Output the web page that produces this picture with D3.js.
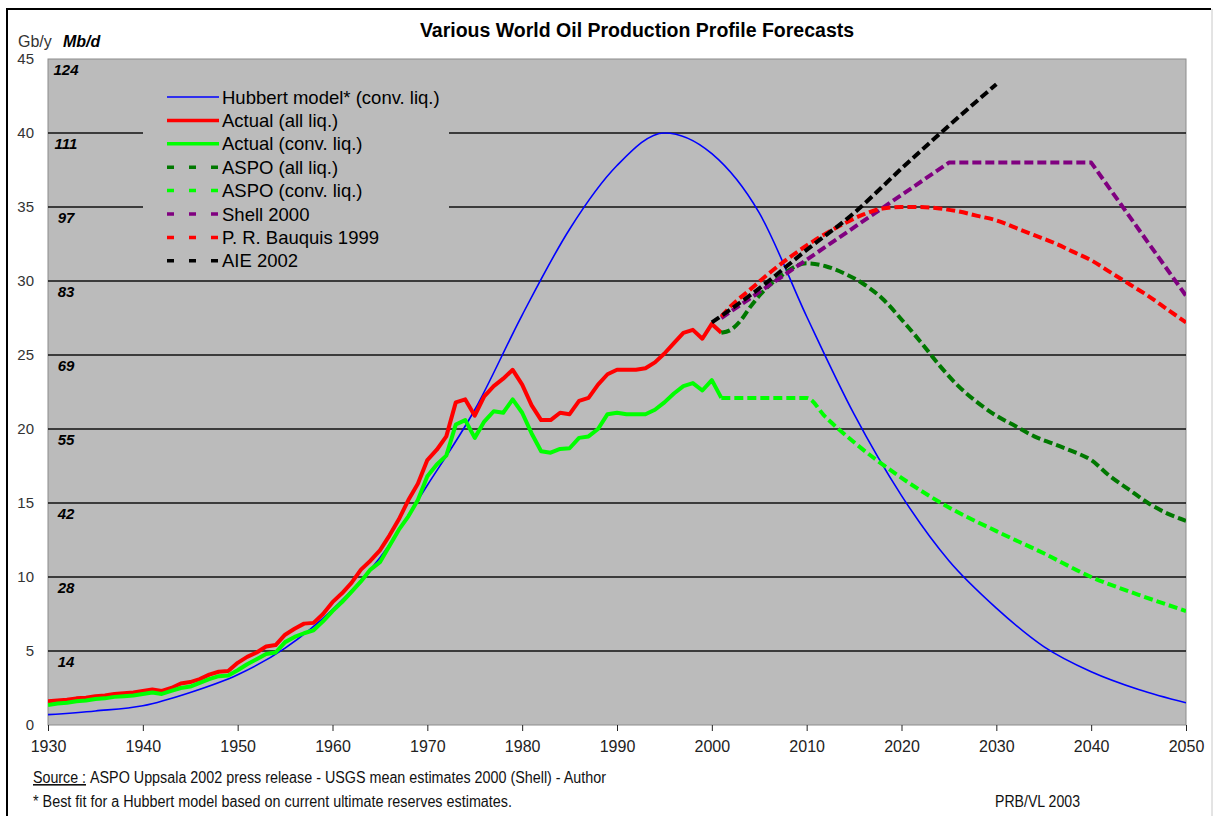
<!DOCTYPE html>
<html>
<head>
<meta charset="utf-8">
<script src="https://cdn.jsdelivr.net/npm/d3@7"></script>
<style>
  body { margin: 0; background: #fff; }
  svg { display: block; font-family: "Liberation Sans", Arial, sans-serif; }
</style>
</head>
<body>
<svg id="chart"></svg>
<script>
// Tick labels
const decadeTicks = [1930, 1940, 1950, 1960, 1970, 1980, 1990, 2000, 2010, 2020, 2030, 2040, 2050];
const gbTicks = [0, 5, 10, 15, 20, 25, 30, 35, 40, 45];
const mbdLabels = [14, 28, 42, 55, 69, 83, 97, 111, 124]; // for 5 .. 45 Gb/y

// Hubbert model (conv. liq.), every 5 years
const hubbertYears = [1930, 1935, 1940, 1945, 1950, 1955, 1960, 1965, 1970, 1975, 1980, 1985, 1990, 1995,
  2000, 2005, 2010, 2015, 2020, 2025, 2030, 2035, 2040, 2045, 2050];
const hubbertValues = [0.7, 0.95, 1.3, 2.2, 3.4, 5.2, 7.8, 11.3, 16.2, 21.3, 27.7, 33.5, 37.8, 40.0,
  38.6, 34.6, 27.6, 21.0, 15.5, 11.1, 7.9, 5.3, 3.6, 2.4, 1.5];

// Actual production, yearly 1930 .. 2001
const actualStart = 1930;
const actualAll = [1.6, 1.65, 1.7, 1.8, 1.85, 1.95, 2.0, 2.1, 2.15, 2.2,
  2.3, 2.4, 2.3, 2.5, 2.8, 2.9, 3.1, 3.4, 3.6, 3.65,
  4.2, 4.6, 4.9, 5.3, 5.4, 6.1, 6.5, 6.85, 6.9, 7.5,
  8.3, 8.9, 9.6, 10.5, 11.1, 11.8, 12.8, 13.9, 15.2, 16.3,
  17.9, 18.6, 19.5, 21.8, 22.0, 20.9, 22.2, 22.9, 23.4, 24.0,
  23.0, 21.6, 20.6, 20.6, 21.1, 21.0, 21.9, 22.1, 23.0, 23.7,
  24.0, 24.0, 24.0, 24.1, 24.5, 25.1, 25.8, 26.5, 26.7, 26.1,
  27.1, 26.5];
const actualConv = [1.35, 1.45, 1.5, 1.6, 1.65, 1.75, 1.8, 1.9, 1.95, 2.0,
  2.1, 2.2, 2.1, 2.3, 2.5, 2.6, 2.85, 3.1, 3.3, 3.35,
  3.7, 4.1, 4.45, 4.8, 4.9, 5.6, 5.95, 6.2, 6.4, 7.0,
  7.7, 8.3, 9.0, 9.7, 10.5, 11.0, 12.1, 13.2, 14.1, 15.2,
  16.8, 17.6, 18.2, 20.3, 20.6, 19.4, 20.5, 21.2, 21.1, 22.0,
  21.1, 19.7, 18.5, 18.4, 18.65, 18.7, 19.4, 19.5, 20.0, 21.0,
  21.1, 21.0, 21.0, 21.0, 21.3, 21.8, 22.4, 22.9, 23.1, 22.6,
  23.3, 22.1];

// Forecasts
const aspoAllYears = [2001, 2002, 2003, 2004, 2005, 2007, 2010, 2012, 2014, 2016, 2018, 2020, 2022, 2024,
  2026, 2028, 2030, 2032, 2034, 2036, 2038, 2040, 2042, 2044, 2046, 2048, 2050];
const aspoAllValues = [26.5, 26.7, 27.3, 28.2, 29.0, 30.2, 31.2, 31.0, 30.5, 29.8, 28.8, 27.4, 25.9, 24.3,
  22.9, 21.8, 20.9, 20.2, 19.5, 19.0, 18.5, 17.9, 16.8, 15.9, 15.0, 14.3, 13.8];

const aspoConvYears = [2001, 2010, 2012, 2015, 2020, 2025, 2030, 2035, 2040, 2045, 2050];
const aspoConvValues = [22.1, 22.1, 20.8, 19.1, 16.7, 14.7, 13.1, 11.6, 10.0, 8.8, 7.7];

const shellYears = [2001, 2025, 2040, 2050];
const shellValues = [27.5, 38.0, 38.0, 29.0];

const bauquisYears = [2001, 2002, 2004, 2006, 2008, 2010, 2012, 2014, 2016, 2018, 2020, 2022, 2024, 2026,
  2028, 2030, 2032, 2034, 2036, 2038, 2040, 2042, 2044, 2046, 2048, 2050];
const bauquisValues = [27.6, 28.3, 29.4, 30.5, 31.5, 32.4, 33.2, 33.9, 34.5, 34.9, 35.0, 35.0, 34.9, 34.7,
  34.4, 34.1, 33.6, 33.1, 32.6, 32.0, 31.4, 30.6, 29.8, 29.0, 28.1, 27.2];

const aieYears = [2000, 2005, 2010, 2015, 2020, 2025, 2030];
const aieValues = [27.2, 29.5, 32.1, 34.6, 37.6, 40.5, 43.3];

const legendNames = ["Hubbert model* (conv. liq.)", "Actual (all liq.)", "Actual (conv. liq.)", "ASPO (all liq.)",
  "ASPO (conv. liq.)", "Shell 2000", "P. R. Bauquis 1999", "AIE 2002"];

// Build series
const zip = (ys, vs) => ys.map((yr, i) => [yr, vs[i]]);
const fromStart = (start, vs) => vs.map((v, i) => [start + i, v]);

const series = [
  { name: legendNames[0], data: zip(hubbertYears, hubbertValues), color: "#0000ff", width: 1.6, dash: null, smooth: true },
  { name: legendNames[1], data: fromStart(actualStart, actualAll), color: "#ff0000", width: 4, dash: null, smooth: false },
  { name: legendNames[2], data: fromStart(actualStart, actualConv), color: "#00ff00", width: 4, dash: null, smooth: false },
  { name: legendNames[3], data: zip(aspoAllYears, aspoAllValues), color: "#007800", width: 4, dash: "9,4", smooth: true },
  { name: legendNames[4], data: zip(aspoConvYears, aspoConvValues), color: "#00ff00", width: 4, dash: "9,4", smooth: true },
  { name: legendNames[5], data: zip(shellYears, shellValues), color: "#800080", width: 4, dash: "9,4", smooth: false },
  { name: legendNames[6], data: zip(bauquisYears, bauquisValues), color: "#ff0000", width: 4, dash: "9,4", smooth: true },
  { name: legendNames[7], data: zip(aieYears, aieValues), color: "#000000", width: 4, dash: "9,4", smooth: true }
];

// Dimensions
const width = 1214;
const height = 818;
const plotLeft = 48, plotRight = 1186, plotTop = 59, plotBottom = 725;

const svg = d3.select("#chart").attr("width", width).attr("height", height);

// Outer frame
svg.append("line").attr("x1", 7).attr("x2", 7).attr("y1", 9).attr("y2", 816).attr("stroke", "#000").attr("stroke-width", 2);
svg.append("line").attr("x1", 6).attr("x2", 1211).attr("y1", 9).attr("y2", 9).attr("stroke", "#000").attr("stroke-width", 2);
svg.append("line").attr("x1", 1212).attr("x2", 1212).attr("y1", 9).attr("y2", 816).attr("stroke", "#c8c8c8").attr("stroke-width", 1);

// Scales
const x = d3.scaleLinear().domain([1930, 2050]).range([plotLeft, plotRight]);
const y = d3.scaleLinear().domain([0, 45]).range([plotBottom, plotTop]);

// Plot area
svg.append("rect")
  .attr("x", plotLeft).attr("y", plotTop)
  .attr("width", plotRight - plotLeft).attr("height", plotBottom - plotTop)
  .attr("fill", "#bbbbbb").attr("stroke", "#8c8c8c").attr("stroke-width", 1);

// Gridlines
svg.append("g").selectAll("line")
  .data(gbTicks.filter(d => d > 0 && d < 45))
  .enter().append("line")
  .attr("x1", plotLeft).attr("x2", plotRight)
  .attr("y1", d => y(d)).attr("y2", d => y(d))
  .attr("stroke", "#111").attr("stroke-width", 1.3);

// Mb/d labels inside the plot
svg.append("g").selectAll("text")
  .data(mbdLabels)
  .enter().append("text")
  .attr("x", 66)
  .attr("y", (d, i) => y(gbTicks[i + 1]) + 16)
  .attr("text-anchor", "middle")
  .attr("font-size", 15).attr("font-weight", "bold").attr("font-style", "italic")
  .attr("fill", "#000")
  .text(d => d);

// Legend background (hides gridlines behind it)
svg.append("rect")
  .attr("x", 143).attr("y", 80).attr("width", 306).attr("height", 195)
  .attr("fill", "#bbbbbb");

// Axes
const xAxis = d3.axisBottom(x).tickValues(decadeTicks).tickFormat(d3.format("d")).tickSize(6).tickPadding(10);
const gx = svg.append("g").attr("transform", "translate(0," + plotBottom + ")").call(xAxis);
gx.select(".domain").remove();
gx.selectAll("line").attr("stroke", "#222");
gx.selectAll("text").attr("font-size", 16).attr("fill", "#222").attr("font-family", "Liberation Sans, Arial, sans-serif");

const yAxis = d3.axisLeft(y).tickValues(gbTicks).tickSize(0).tickPadding(14);
const gy = svg.append("g").attr("transform", "translate(" + plotLeft + ",0)").call(yAxis);
gy.select(".domain").remove();
gy.selectAll("text").attr("font-size", 15).attr("fill", "#333").attr("font-family", "Liberation Sans, Arial, sans-serif");

// Lines
svg.append("clipPath").attr("id", "plotclip")
  .append("rect").attr("x", plotLeft).attr("y", plotTop)
  .attr("width", plotRight - plotLeft).attr("height", plotBottom - plotTop);

const lineGroup = svg.append("g").attr("clip-path", "url(#plotclip)");
series.forEach(s => {
  const line = d3.line()
    .x(d => x(d[0]))
    .y(d => y(d[1]))
    .curve(s.smooth ? d3.curveMonotoneX : d3.curveLinear);
  lineGroup.append("path")
    .datum(s.data)
    .attr("d", line)
    .attr("fill", "none")
    .attr("stroke", s.color)
    .attr("stroke-width", s.width)
    .attr("stroke-linejoin", "round")
    .attr("stroke-dasharray", s.dash);
});

// Legend
const legend = svg.append("g").attr("transform", "translate(167,97)");
series.forEach((s, i) => {
  const row = legend.append("g").attr("transform", "translate(0," + (i * 23.4) + ")");
  row.append("line")
    .attr("x1", 0).attr("x2", 52).attr("y1", 0).attr("y2", 0)
    .attr("stroke", s.color)
    .attr("stroke-width", i === 0 ? 1.6 : 3.5)
    .attr("stroke-dasharray", s.dash ? "7,15" : null);
  row.append("text")
    .attr("x", 55).attr("y", 6.5)
    .attr("font-size", 18.5).attr("fill", "#000")
    .text(s.name);
});

// Title and axis unit labels
svg.append("text")
  .attr("x", 637).attr("y", 37)
  .attr("text-anchor", "middle")
  .attr("font-size", 19.5).attr("font-weight", "bold")
  .text("Various World Oil Production Profile Forecasts");

svg.append("text").attr("x", 18).attr("y", 47).attr("font-size", 16).attr("fill", "#333").text("Gb/y");
svg.append("text").attr("x", 63).attr("y", 47).attr("font-size", 16)
  .attr("font-weight", "bold").attr("font-style", "italic").text("Mb/d");

// Footer notes (condensed like Arial Narrow)
svg.append("text").attr("x", 33).attr("y", 783)
  .attr("font-size", 16).attr("fill", "#111")
  .attr("text-decoration", "underline")
  .attr("textLength", 53).attr("lengthAdjust", "spacingAndGlyphs")
  .text("Source :");

svg.append("text").attr("x", 90).attr("y", 783)
  .attr("font-size", 16).attr("fill", "#111")
  .attr("textLength", 516).attr("lengthAdjust", "spacingAndGlyphs")
  .text("ASPO Uppsala 2002 press release - USGS mean estimates 2000 (Shell) - Author");

svg.append("text").attr("x", 33).attr("y", 807)
  .attr("font-size", 16).attr("fill", "#111")
  .attr("textLength", 479).attr("lengthAdjust", "spacingAndGlyphs")
  .text("* Best fit for a Hubbert model based on current ultimate reserves estimates.");

svg.append("text").attr("x", 995).attr("y", 807)
  .attr("font-size", 16).attr("fill", "#111")
  .attr("textLength", 85).attr("lengthAdjust", "spacingAndGlyphs")
  .text("PRB/VL 2003");
</script>
</body>
</html>
